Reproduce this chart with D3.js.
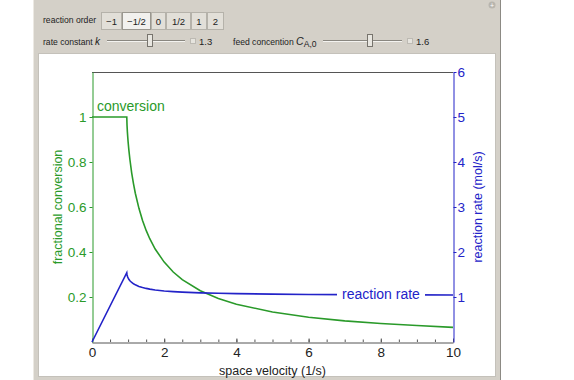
<!DOCTYPE html>
<html>
<head>
  <title>CSTR conversion and rate</title>
  <style type="text/css">
    body { margin: 0; background: #fff; }
    svg { display: block; }
    text { font-family: "Liberation Sans", Arial, sans-serif; }
  </style>
</head>
<body>

<div id="chart"></div>

<script src="https://d3js.org/d3.v7.min.js"></script>
<script type="text/javascript">
// values
var velocity   = [0, 0.9635, 0.97, 0.98, 0.99, 1.0, 1.02, 1.05, 1.1, 1.15, 1.2, 1.3, 1.4, 1.5, 1.6, 1.75, 2, 2.25, 2.5, 3, 3.5, 4, 5, 6, 7, 8, 9, 10];
var conversion = [1, 1, 0.964, 0.934, 0.911, 0.890, 0.855, 0.811, 0.751, 0.703, 0.661, 0.594, 0.540, 0.496, 0.459, 0.413, 0.355, 0.311, 0.277, 0.228, 0.193, 0.168, 0.133, 0.110, 0.094, 0.082, 0.073, 0.065];
var rate       = [0, 1.54, 1.497, 1.465, 1.442, 1.424, 1.395, 1.362, 1.322, 1.293, 1.270, 1.235, 1.210, 1.191, 1.175, 1.157, 1.135, 1.120, 1.108, 1.092, 1.082, 1.074, 1.064, 1.057, 1.053, 1.050, 1.047, 1.045];

var xTicks = [0, 2, 4, 6, 8, 10];
var xMinor = d3.range(0, 10.01, 0.5);
var convTicks = [0.2, 0.4, 0.6, 0.8, 1];
var rateTicks = [1, 2, 3, 4, 5, 6];

var orders = ["\u22121", "\u22121/2", "0", "1/2", "1", "2"];
var kValue = 1.3, caValue = 1.6;

var green = "#2a9a2a", blue = "#2323c8", panel = "#d4d0c8";

var svg = d3.select("#chart").append("svg")
  .attr("width", 574).attr("height", 380);

// panel
svg.append("rect").attr("x", 33).attr("y", 0).attr("width", 468).attr("height", 380).attr("fill", panel);
svg.append("line").attr("x1", 33.5).attr("x2", 33.5).attr("y1", 0).attr("y2", 380).attr("stroke", "#ece9e3");
svg.append("line").attr("x1", 500.5).attr("x2", 500.5).attr("y1", 0).attr("y2", 380).attr("stroke", "#8c8a84");
svg.append("circle").attr("cx", 492).attr("cy", 5).attr("r", 3.5).attr("fill", "#b8b5ae");
svg.append("text").attr("x", 492).attr("y", 7.5).attr("text-anchor", "middle").attr("font-size", 7).attr("fill", "#fff").text("+");

// controls
var ctl = svg.append("g").attr("font-size", 8.6).attr("fill", "#222");
ctl.append("text").attr("x", 43).attr("y", 23).text("reaction order");

var bw = [21, 29, 15, 25, 16, 17];
var bx = 101;
orders.forEach(function(o, i) {
  var sel = i === 1;
  ctl.append("rect").attr("x", bx + 0.5).attr("y", 12.5).attr("width", bw[i] - 1).attr("height", 17)
    .attr("fill", sel ? "#f2f1ee" : "#e2dfd8").attr("stroke", sel ? "#9a978f" : "#b5b2aa");
  ctl.append("text").attr("x", bx + bw[i] / 2).attr("y", 24.5).attr("text-anchor", "middle")
    .attr("font-size", 9.5).text(o);
  bx += bw[i];
});

function slider(x0, x1, pos, val) {
  ctl.append("line").attr("x1", x0).attr("x2", x1).attr("y1", 40.5).attr("y2", 40.5).attr("stroke", "#8a8780");
  ctl.append("line").attr("x1", x0).attr("x2", x1).attr("y1", 41.5).attr("y2", 41.5).attr("stroke", "#f4f3f0");
  ctl.append("rect").attr("x", pos - 2.5).attr("y", 34.5).attr("width", 5).attr("height", 12)
    .attr("fill", "#e8e6e0").attr("stroke", "#77746d");
  ctl.append("rect").attr("x", x1 + 5.5).attr("y", 38.5).attr("width", 5).attr("height", 5)
    .attr("fill", "#e6e4de").attr("stroke", "#bdbab3");
  ctl.append("text").attr("x", x1 + 14).attr("y", 44.5).attr("font-size", 9.5).text(val);
}

var kt = ctl.append("text").attr("x", 43).attr("y", 44.5).text("rate constant ");
kt.append("tspan").attr("font-style", "italic").attr("font-size", 10).text("k");
slider(107, 185, 150, kValue);

var ct = ctl.append("text").attr("x", 233).attr("y", 44.5).text("feed concention ");
ct.append("tspan").attr("font-style", "italic").attr("font-size", 10.5).text("C");
ct.append("tspan").attr("font-size", 8.6).attr("dy", 2.5).text("A,0");
slider(323, 402, 370, caValue);

// plot area
svg.append("rect").attr("x", 38.5).attr("y", 53.5).attr("width", 457).attr("height", 323)
  .attr("fill", "#fff").attr("stroke", "#c4c1ba");

var x = d3.scaleLinear().domain([0, 10]).range([92, 453]);
var yL = d3.scaleLinear().domain([0, 1.2]).range([342, 72]);
var yR = d3.scaleLinear().domain([0, 6]).range([342, 72]);

// top frame
svg.append("line").attr("x1", x(0)).attr("x2", x(10)).attr("y1", 72.5).attr("y2", 72.5).attr("stroke", "#555");

// bottom axis
var gx = svg.append("g").attr("transform", "translate(0,342.5)")
  .call(d3.axisBottom(x).tickValues(xTicks).tickSize(-4).tickSizeOuter(0).tickPadding(5).tickFormat(d3.format("d")));
gx.select(".domain").attr("stroke", "#555");
gx.selectAll(".tick line").attr("stroke", "#555");
gx.selectAll("text").attr("font-size", 13.5).attr("font-family", "Liberation Sans, Arial").attr("fill", "#222");
svg.append("g").selectAll("line").data(xMinor).enter().append("line")
  .attr("x1", d => x(d) + 0.5).attr("x2", d => x(d) + 0.5)
  .attr("y1", 342).attr("y2", 339.5).attr("stroke", "#555");

// left axis
var gl = svg.append("g").attr("transform", "translate(92.5,0)")
  .call(d3.axisLeft(yL).tickValues(convTicks).tickSize(3).tickSizeOuter(0).tickPadding(3).tickFormat(d => d === 1 ? "1" : d3.format(".1f")(d)));
gl.select(".domain").attr("stroke", green);
gl.selectAll(".tick line").attr("stroke", green);
gl.selectAll("text").attr("font-size", 13.5).attr("font-family", "Liberation Sans, Arial").attr("fill", green);

// right axis
var gr = svg.append("g").attr("transform", "translate(453.5,0)")
  .call(d3.axisRight(yR).tickValues(rateTicks).tickSize(3).tickSizeOuter(0).tickPadding(1).tickFormat(d3.format("d")));
gr.select(".domain").attr("stroke", blue);
gr.selectAll(".tick line").attr("stroke", blue);
gr.selectAll("text").attr("font-size", 13.5).attr("font-family", "Liberation Sans, Arial").attr("fill", blue);

// axis titles
svg.append("text").attr("x", x(5)).attr("y", 375).attr("text-anchor", "middle")
  .attr("font-size", 12.5).attr("fill", "#222").text("space velocity (1/s)");
svg.append("text").attr("transform", "translate(62,207)rotate(-90)").attr("text-anchor", "middle")
  .attr("font-size", 12.5).attr("fill", green).text("fractional conversion");
svg.append("text").attr("transform", "translate(482,207)rotate(-90)").attr("text-anchor", "middle")
  .attr("font-size", 12.5).attr("fill", blue).text("reaction rate (mol/s)");

// curves
var idx = d3.range(velocity.length);
var convLine = d3.line().x(i => x(velocity[i])).y(i => yL(conversion[i]));
var rateLine = d3.line().x(i => x(velocity[i])).y(i => yR(rate[i]));

svg.append("path").attr("d", convLine(idx)).attr("fill", "none").attr("stroke", green).attr("stroke-width", 1.6);
svg.append("path").attr("d", rateLine(idx)).attr("fill", "none").attr("stroke", blue).attr("stroke-width", 1.6);

// curve labels
svg.append("text").attr("x", 97).attr("y", 111).attr("font-size", 14).attr("fill", green).text("conversion");
var rl = svg.append("g");
rl.append("rect").attr("x", 337).attr("y", 285).attr("width", 88).attr("height", 18).attr("fill", "#fff");
rl.append("text").attr("x", 381).attr("y", 299).attr("text-anchor", "middle")
  .attr("font-size", 14).attr("fill", blue).text("reaction rate");
</script>
</body>
</html>
